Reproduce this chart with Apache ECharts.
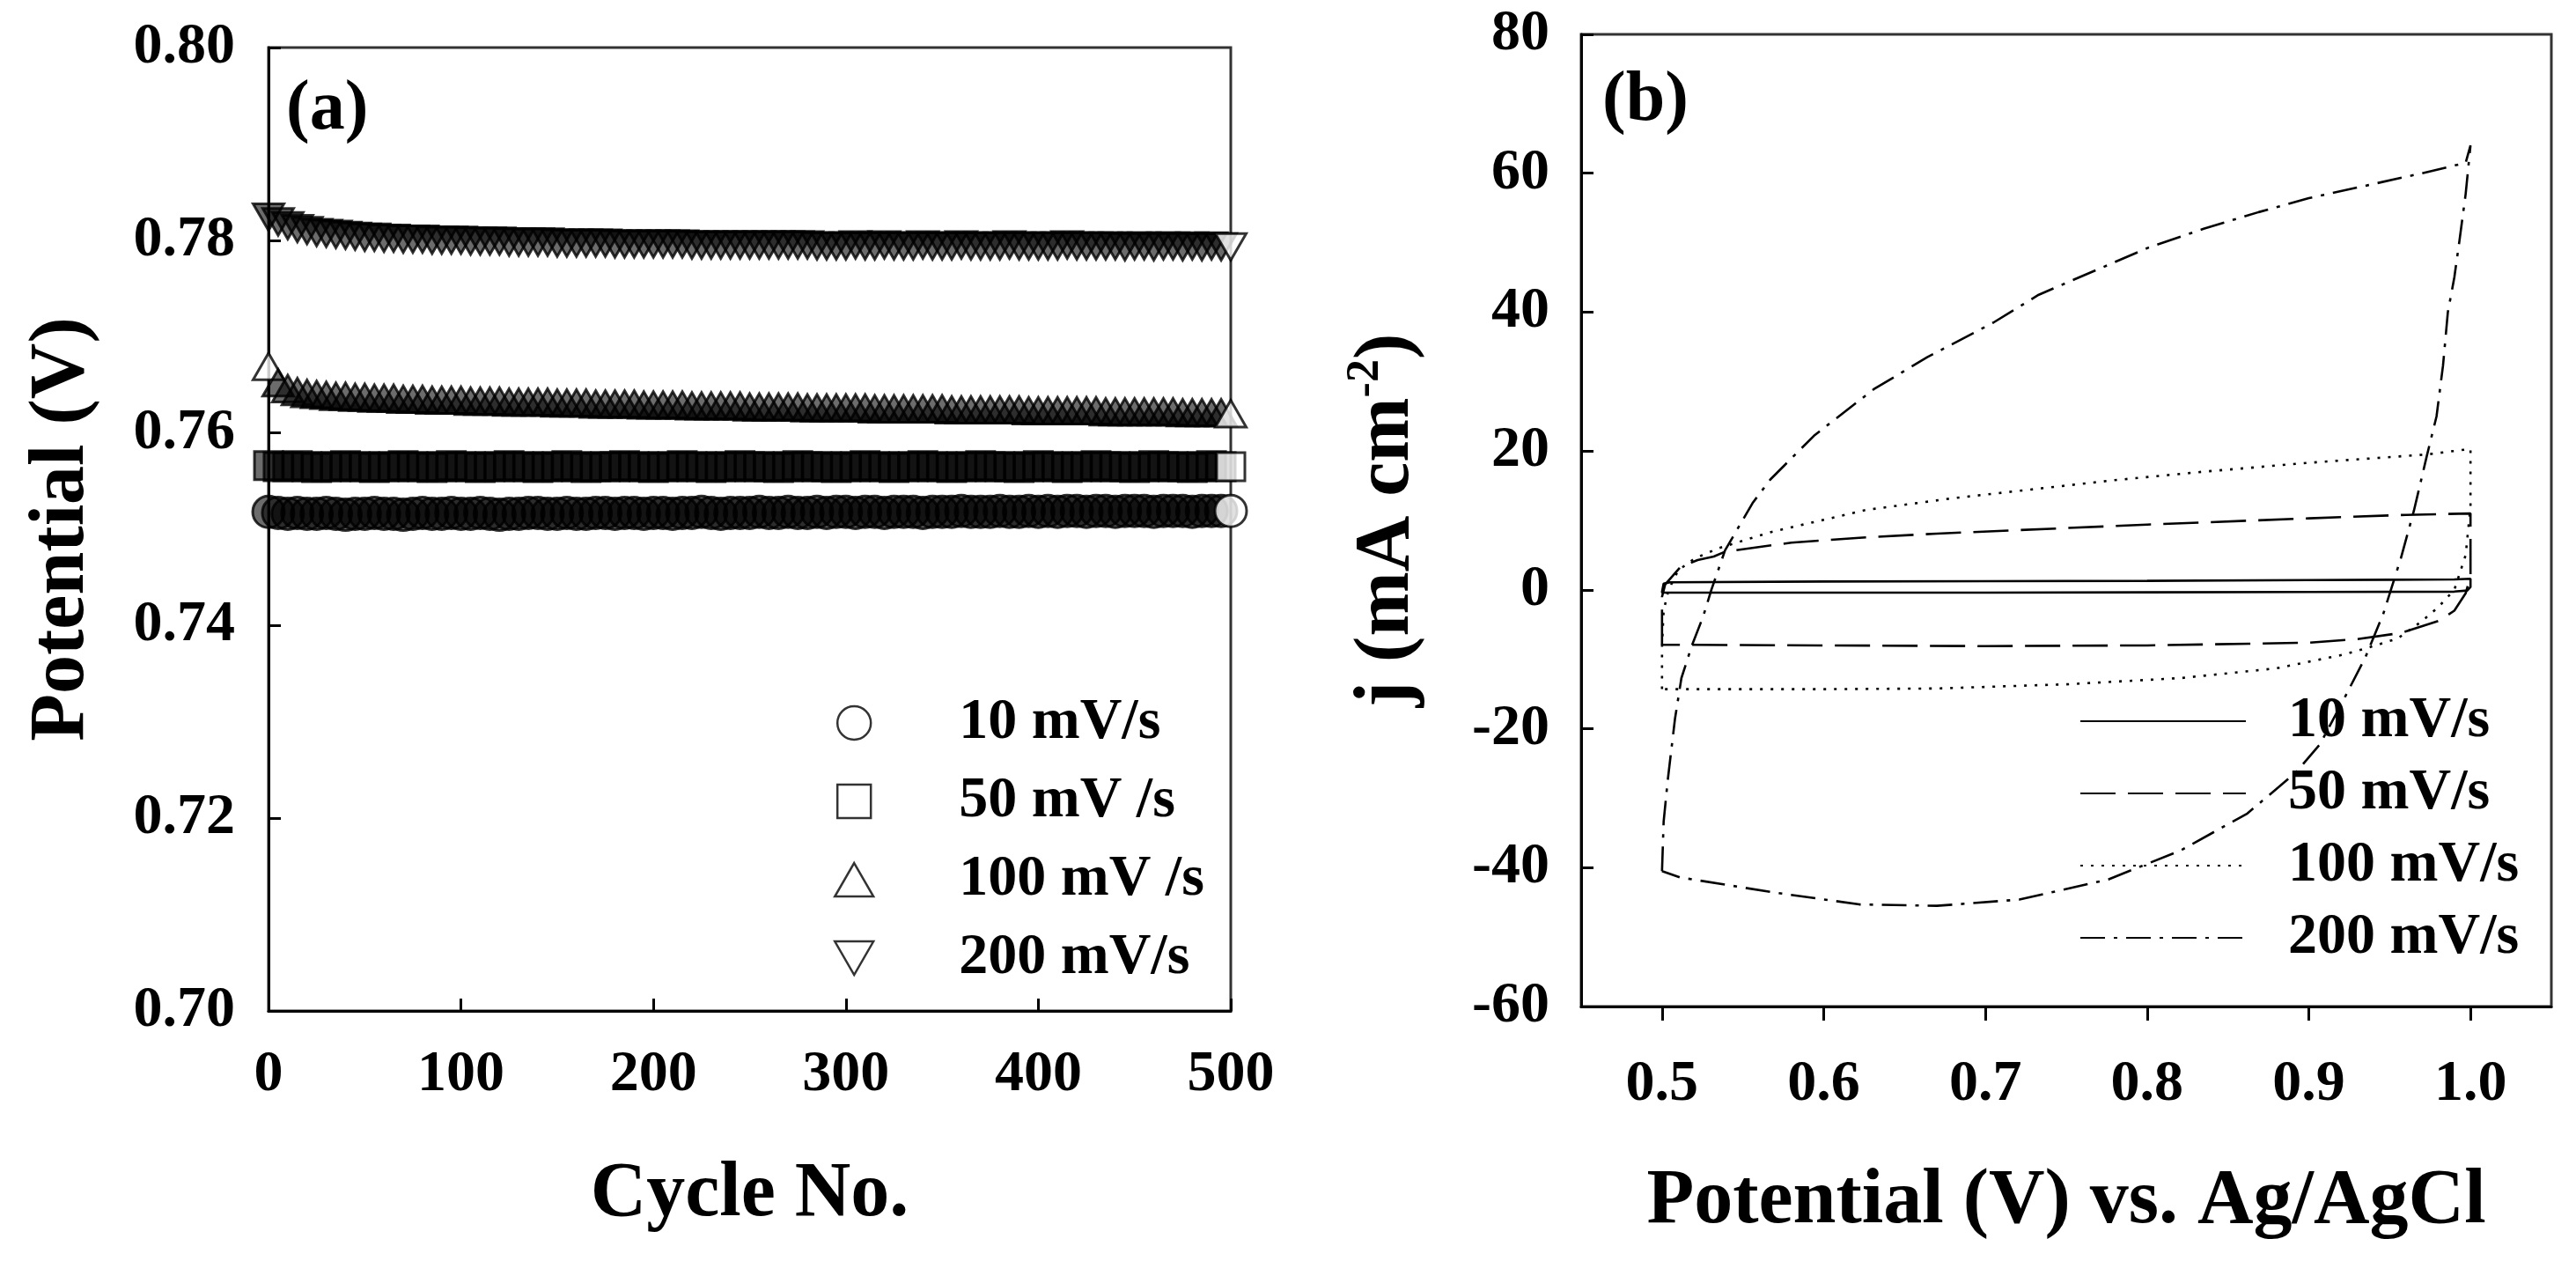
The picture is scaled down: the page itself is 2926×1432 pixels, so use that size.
<!DOCTYPE html>
<html><head><meta charset="utf-8">
<script src="https://cdn.jsdelivr.net/npm/echarts@6/dist/echarts.min.js"></script>
<style>html,body{margin:0;padding:0;background:#fff}#c{width:2926px;height:1432px}</style>
</head><body><div id="c"></div>
<script>
// ---------- Panel (a): potential vs cycle number ----------
const cycles = [0,5,10,15,20,25,30,35,40,45,50,55,60,65,70,75,80,85,90,95,
100,105,110,115,120,125,130,135,140,145,150,155,160,165,170,175,180,185,190,195,
200,205,210,215,220,225,230,235,240,245,250,255,260,265,270,275,280,285,290,295,
300,305,310,315,320,325,330,335,340,345,350,355,360,365,370,375,380,385,390,395,
400,405,410,415,420,425,430,435,440,445,450,455,460,465,470,475,480,485,490,495,500];

const pot10 = [0.7518,0.7517,0.7516,0.7517,0.7516,0.7516,0.7517,0.7516,0.7515,0.7516,
0.7516,0.7517,0.7516,0.7516,0.7515,0.7516,0.7517,0.7516,0.7516,0.7517,
0.7516,0.7516,0.7517,0.7516,0.7515,0.7516,0.7516,0.7517,0.7517,0.7516,
0.7516,0.7517,0.7516,0.7516,0.7517,0.7517,0.7516,0.7517,0.7517,0.7516,
0.7517,0.7517,0.7516,0.7517,0.7517,0.7518,0.7517,0.7516,0.7517,0.7517,
0.7517,0.7518,0.7517,0.7517,0.7518,0.7517,0.7517,0.7518,0.7517,0.7518,
0.7518,0.7517,0.7518,0.7518,0.7517,0.7518,0.7518,0.7518,0.7517,0.7518,
0.7518,0.7518,0.7519,0.7518,0.7518,0.7518,0.7519,0.7518,0.7518,0.7519,
0.7518,0.7519,0.7518,0.7519,0.7519,0.7518,0.7519,0.7519,0.7518,0.7519,
0.7519,0.7519,0.7518,0.7519,0.7519,0.7519,0.7518,0.7519,0.7519,0.7519,0.7519];

const pot50 = [0.7566,0.7565,0.7565,0.7566,0.7565,0.7564,0.7565,0.7565,0.7566,0.7565,
0.7565,0.7564,0.7565,0.7565,0.7566,0.7565,0.7565,0.7564,0.7565,0.7566,
0.7565,0.7565,0.7564,0.7565,0.7565,0.7566,0.7565,0.7565,0.7564,0.7565,
0.7565,0.7566,0.7565,0.7564,0.7565,0.7565,0.7565,0.7566,0.7565,0.7565,
0.7564,0.7565,0.7565,0.7566,0.7565,0.7565,0.7564,0.7565,0.7565,0.7566,
0.7565,0.7565,0.7565,0.7564,0.7565,0.7566,0.7565,0.7565,0.7565,0.7564,
0.7565,0.7565,0.7566,0.7565,0.7565,0.7564,0.7565,0.7565,0.7566,0.7565,
0.7565,0.7564,0.7565,0.7565,0.7566,0.7565,0.7565,0.7565,0.7564,0.7565,
0.7566,0.7565,0.7565,0.7564,0.7565,0.7565,0.7566,0.7565,0.7565,0.7565,
0.7564,0.7565,0.7566,0.7565,0.7565,0.7565,0.7564,0.7565,0.7566,0.7565,0.7565];

const pot100 = [0.7669,0.7652,0.7646,0.7643,0.7641,0.7640,0.7639,0.7638,0.7638,0.7637,
0.7637,0.7636,0.7636,0.7636,0.7635,0.7635,0.7635,0.7634,0.7634,0.7634,
0.7634,0.7633,0.7633,0.7633,0.7633,0.7632,0.7632,0.7632,0.7632,0.7632,
0.7631,0.7631,0.7631,0.7631,0.7630,0.7630,0.7630,0.7630,0.7630,0.7629,
0.7629,0.7629,0.7629,0.7629,0.7628,0.7628,0.7628,0.7628,0.7628,0.7628,
0.7627,0.7627,0.7627,0.7627,0.7627,0.7627,0.7626,0.7626,0.7626,0.7626,
0.7626,0.7626,0.7626,0.7625,0.7625,0.7625,0.7625,0.7625,0.7625,0.7625,
0.7625,0.7624,0.7624,0.7624,0.7624,0.7624,0.7624,0.7624,0.7624,0.7623,
0.7623,0.7623,0.7623,0.7623,0.7623,0.7623,0.7623,0.7622,0.7622,0.7622,
0.7622,0.7622,0.7622,0.7622,0.7622,0.7621,0.7621,0.7621,0.7621,0.7621,0.7620];

const pot200 = [0.7824,0.7819,0.7815,0.7812,0.7810,0.7808,0.7807,0.7806,0.7805,0.7804,
0.7803,0.7803,0.7802,0.7802,0.7801,0.7801,0.7801,0.7800,0.7800,0.7800,
0.7800,0.7799,0.7799,0.7799,0.7799,0.7798,0.7798,0.7798,0.7798,0.7798,
0.7797,0.7797,0.7797,0.7797,0.7797,0.7797,0.7796,0.7796,0.7796,0.7796,
0.7796,0.7796,0.7796,0.7796,0.7795,0.7795,0.7795,0.7795,0.7795,0.7795,
0.7795,0.7795,0.7795,0.7795,0.7795,0.7795,0.7795,0.7794,0.7794,0.7794,
0.7794,0.7795,0.7794,0.7794,0.7795,0.7794,0.7794,0.7794,0.7795,0.7794,
0.7794,0.7794,0.7795,0.7794,0.7794,0.7794,0.7794,0.7795,0.7794,0.7794,
0.7794,0.7794,0.7794,0.7795,0.7794,0.7794,0.7794,0.7794,0.7794,0.7793,
0.7794,0.7794,0.7793,0.7794,0.7794,0.7793,0.7794,0.7793,0.7794,0.7793,0.7793];

const labelsA = ['10 mV/s', '50 mV /s', '100 mV /s', '200 mV/s'];
const xTicksA = [0, 100, 200, 300, 400, 500];
const yTicksA = [0.70, 0.72, 0.74, 0.76, 0.78, 0.80];

// ---------- Panel (b): cyclic voltammograms ----------
const cv10E = [0.5,0.501,0.505,0.6,0.7,0.8,0.9,0.95,0.99,1.0,1.0,0.998,0.99,0.9,0.8,0.7,0.6,0.5,0.5];
const cv10J = [-0.3,0.9,1.1,1.2,1.25,1.3,1.4,1.45,1.5,1.6,0.4,-0.1,-0.25,-0.3,-0.35,-0.4,-0.4,-0.4,-0.3];

const cv50E = [0.5,0.5,0.502,0.511,0.522,0.532,0.539,0.58,0.622,0.67,0.72,0.8,0.9,0.96,1.0,1.0,0.997,0.99,0.98,0.957,0.93,0.9,0.8,0.7,0.6,0.5];
const cv50J = [-7.9,-1,0.8,3.2,4.3,4.8,5.5,6.8,7.5,8.1,8.6,9.4,10.3,10.8,11.0,2,-0.5,-3,-4.5,-6.2,-7.1,-7.6,-8.0,-8.1,-8.0,-7.9];

const cv100E = [0.5,0.5,0.501,0.504,0.51,0.52,0.535,0.567,0.626,0.68,0.73,0.78,0.834,0.9,0.973,1.0,1.0,0.997,0.99,0.98,0.97,0.955,0.937,0.922,0.88,0.821,0.75,0.67,0.6,0.5];
const cv100J = [-14.3,-8,-3,0,2.8,4.5,6,8.3,11.5,13.2,14.5,15.8,17,18.3,19.5,20.3,12,5,0,-2.5,-4.5,-7,-8.3,-9.3,-11.3,-12.7,-13.6,-14.2,-14.3,-14.3];

const cv200E = [0.5,0.501,0.5035,0.508,0.512,0.5185,0.5255,0.5305,0.539,0.556,0.567,0.594,0.631,0.664,0.705,0.733,0.77,0.801,0.835,0.869,0.9,0.937,0.97,0.997,1.0,
0.997,0.993,0.99,0.986,0.983,0.979,0.973,0.965,0.957,0.946,0.935,0.922,0.907,0.892,0.862,0.821,0.776,0.721,0.67,0.622,0.567,0.511,0.5];
const cv200J = [-40.5,-33.4,-27.5,-18.6,-12.7,-8,-3.8,0,5.7,12.5,15.9,22.2,28.9,33.5,38.5,42.5,46.2,49.3,52,54.4,56.4,58.3,60,61.5,64,
57,50,45,40,32.3,25,19.3,11.4,4.6,-3.5,-9.7,-15.6,-22.2,-26.3,-32.2,-37.5,-41.7,-44.6,-45.5,-45.3,-43.5,-41.4,-40.5];

const labelsB = ['10 mV/s', '50 mV/s', '100 mV/s', '200 mV/s'];
const xTicksB = [0.5, 0.6, 0.7, 0.8, 0.9, 1.0];
const yTicksB = [-60, -40, -20, 0, 20, 40, 60, 80];

// ---------- build ----------
const FONT = 'Liberation Serif';
const txt = (size) => ({ fontFamily: FONT, fontWeight: 'bold', fontSize: size, color: '#000' });

function scatterData(vals, whiteFirst) {
  return vals.map((v, i) => (i === vals.length - 1 || (whiteFirst && i === 0))
    ? { value: [cycles[i], v], itemStyle: { color: '#fff' } }
    : [cycles[i], v]);
}
function cvData(E, J) { return E.map((e, i) => [e, J[i]]); }

const symbolsA = ['circle', 'path://M0,0 L10,0 L10,10 L0,10 Z', 'path://M5,0 L10,8.66 L0,8.66 Z', 'path://M0,0 L10,0 L5,8.66 Z'];
const sizesA = [36, 32, 35, 35];
const potA = [pot10, pot50, pot100, pot200];

const dashB = ['solid', [40, 14], [3, 9], [28, 10, 4, 10]];
const cvB = [[cv10E, cv10J], [cv50E, cv50J], [cv100E, cv100J], [cv200E, cv200J]];

const series = [];
potA.forEach((vals, k) => series.push({
  name: 'a' + k, type: 'scatter', xAxisIndex: 0, yAxisIndex: 0,
  symbol: symbolsA[k], symbolSize: sizesA[k], symbolKeepAspect: true,
  itemStyle: { color: 'rgba(0,0,0,0.72)', borderColor: '#000', borderWidth: 3 },
  data: scatterData(vals, k === 2), z: 3
}));
cvB.forEach((pair, k) => series.push({
  name: 'b' + k, type: 'line', xAxisIndex: 1, yAxisIndex: 1,
  symbol: 'none', showSymbol: false, smooth: false,
  lineStyle: { color: '#000', width: 2.6, type: dashB[k] },
  itemStyle: { color: '#000' },
  data: cvData(pair[0], pair[1]), z: 3
}));

const axisLineStyle = { show: true, onZero: false, lineStyle: { color: '#000', width: 3 } };

const option = {
  animation: false,
  backgroundColor: '#fff',
  title: [
    { text: '(a)', left: 320, top: 80, textStyle: txt(80) },
    { text: '(b)', left: 1815, top: 70, textStyle: txt(80) }
  ],
  grid: [
    { left: 305, top: 54, width: 1093, height: 1094, show: true, borderColor: '#333', borderWidth: 3, backgroundColor: 'transparent' },
    { left: 1796, top: 39, width: 1102, height: 1104, show: true, borderColor: '#333', borderWidth: 3, backgroundColor: 'transparent' }
  ],
  xAxis: [
    { gridIndex: 0, type: 'value', min: xTicksA[0], max: xTicksA[xTicksA.length - 1], interval: 100,
      name: 'Cycle No.', nameLocation: 'middle', nameGap: 165, nameTextStyle: txt(88),
      axisLine: axisLineStyle, splitLine: { show: false },
      axisTick: { show: true, inside: true, length: 14, lineStyle: { color: '#000', width: 3 } },
      axisLabel: { ...txt(66), margin: 40, formatter: v => String(v) } },
    { gridIndex: 1, type: 'value', min: 0.45, max: 1.05,
      name: 'Potential (V) vs. Ag/AgCl', nameLocation: 'middle', nameGap: 178, nameTextStyle: txt(88),
      axisLine: axisLineStyle, splitLine: { show: false },
      axisTick: { show: true, inside: false, length: 16, customValues: xTicksB, lineStyle: { color: '#000', width: 3 } },
      axisLabel: { ...txt(66), margin: 56, customValues: xTicksB, formatter: v => Number(v).toFixed(1) } }
  ],
  yAxis: [
    { gridIndex: 0, type: 'value', min: yTicksA[0], max: yTicksA[yTicksA.length - 1], interval: 0.02,
      name: 'Potential (V)', nameLocation: 'middle', nameGap: 190, nameTextStyle: txt(88),
      axisLine: axisLineStyle, splitLine: { show: false },
      axisTick: { show: true, inside: true, length: 14, lineStyle: { color: '#000', width: 3 } },
      axisLabel: { ...txt(66), margin: 38, formatter: v => Number(v).toFixed(2) } },
    { gridIndex: 1, type: 'value', min: yTicksB[0], max: yTicksB[yTicksB.length - 1], interval: 20,
      name: '{n|j (mA cm}{s|-2}{n|)}', nameLocation: 'middle', nameGap: 170,
      nameTextStyle: { ...txt(88), rich: {
        n: { ...txt(88), lineHeight: 100 },
        s: { ...txt(52), lineHeight: 100, verticalAlign: 'top' } } },
      axisLine: axisLineStyle, splitLine: { show: false },
      axisTick: { show: true, inside: true, length: 14, lineStyle: { color: '#000', width: 3 } },
      axisLabel: { ...txt(66), margin: 36, formatter: v => String(v) } }
  ],
  legend: [
    { data: ['a0', 'a1', 'a2', 'a3'], orient: 'vertical', left: 942, top: 783,
      itemWidth: 228, itemHeight: 38, itemGap: 23, selectedMode: false,
      itemStyle: { color: '#fff', borderColor: '#000', borderWidth: 2.5 },
      formatter: n => labelsA[+n.slice(1)], textStyle: { ...txt(66), lineHeight: 38 } },
    { data: ['b0', 'b1', 'b2', 'b3'], orient: 'vertical', left: 2357, top: 781,
      itemWidth: 188, itemHeight: 40, itemGap: 16, selectedMode: false,
      itemStyle: { color: 'rgba(0,0,0,0)', borderWidth: 0, opacity: 0 },
      formatter: n => labelsB[+n.slice(1)], textStyle: { ...txt(66), lineHeight: 40, padding: [0, 0, 0, 43] } }
  ],
  series
};

const chart = echarts.init(document.getElementById('c'));
chart.setOption(option);
</script>
</body></html>
